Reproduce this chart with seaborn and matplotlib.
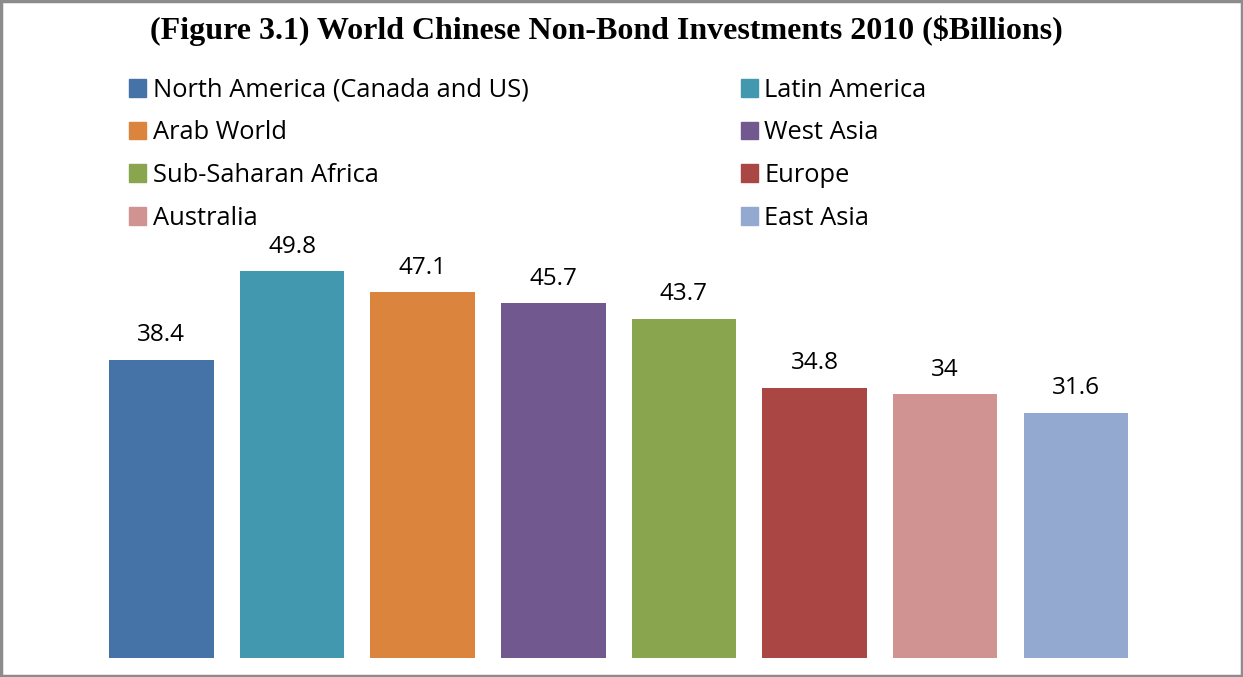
import matplotlib.pyplot as plt
import matplotlib.patches as mpatches
import pandas as pd
import seaborn as sns

regionen = ['North America (Canada and US)', 'Latin America', 'Arab World', 'West Asia',
            'Sub-Saharan Africa', 'Europe', 'Australia', 'East Asia']
werte = [38.4, 49.8, 47.1, 45.7, 43.7, 34.8, 34, 31.6]
farben = ['#4572A7', '#4198AF', '#DB843D', '#71588F', '#89A54E', '#AA4643', '#D19392', '#93A9CF']
titel = '(Figure 3.1) World Chinese Non-Bond Investments 2010 ($Billions)'

daten = pd.DataFrame({'region': regionen, 'wert': werte})

sns.set_style('white')
plt.rcParams['font.family'] = ['Open Sans', 'DejaVu Sans']
plt.rcParams['text.color'] = 'black'

fig = plt.figure(figsize=(12.43, 6.77), dpi=100)
ax = fig.add_axes([0.0773, 0.0281, 0.8407, 0.688])
sns.barplot(data=daten, x='region', y='wert', hue='region', palette=farben,
            order=regionen, hue_order=regionen, legend=False, ax=ax,
            saturation=1, linewidth=0)
ax.set_ylim(0, 60)
ax.set_axis_off()

# Datenbeschriftungen
for container in ax.containers:
    ax.bar_label(container, labels=[f'{v:g}' for v in container.datavalues],
                 padding=9, fontsize=17.5, color='black')

# Legende zeilenweise (matplotlib fuellt spaltenweise)
griffe = [mpatches.Patch(color=f, label=r) for r, f in zip(regionen, farben)]
griffe = griffe[0::2] + griffe[1::2]
fig.legend(handles=griffe, ncol=2, loc='upper left', bbox_to_anchor=(0.1038, 0.885),
           frameon=False, fontsize=18.4, handlelength=0.68, handleheight=0.68,
           handletextpad=0.25, columnspacing=8.3, labelspacing=0.69,
           borderpad=0, borderaxespad=0, labelcolor='black')

fig.text(0.4877, 0.954, titel, ha='center', va='center', fontsize=23,
         fontweight='bold', family='Liberation Serif', color='black')

# Rahmen um die Grafik
rahmen = mpatches.Rectangle((0.001, 0.001), 0.998, 0.997, transform=fig.transFigure,
                            fill=False, edgecolor='#8c8c8c', linewidth=2.5)
fig.patches.append(rahmen)

fig.savefig('out.png', dpi=100)
